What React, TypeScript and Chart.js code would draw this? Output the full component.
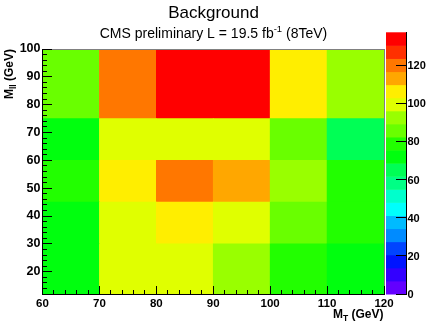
import React, { useEffect, useRef } from "react";
import { Chart, registerables } from "chart.js";

Chart.register(...registerables);

// ---- data ----
const xEdges = [60, 70, 80, 90, 100, 110, 120];
const yEdges = [12, 30, 45, 60, 75, 100];
// cell contents, one array per M_ll row (bottom to top), columns by M_T (left to right)
const row12to30 = [72, 100, 100, 93, 79, 72];
const row30to45 = [72, 100, 107, 100, 86, 79];
const row45to60 = [79, 107, 120, 113, 93, 79];
const row60to75 = [72, 100, 100, 100, 86, 65];
const row75to100 = [86, 120, 134, 137.7, 107, 93];
const rows = [row12to30, row30to45, row45to60, row60to75, row75to100];

const xTickValues = [60, 70, 80, 90, 100, 110, 120];
const yTickValues = [20, 30, 40, 50, 60, 70, 80, 90, 100];
const zTickValues = [0, 20, 40, 60, 80, 100, 120];
const zMin = 0;
const zMax = 137.7;
const nContours = 20;

// ROOT "pretty" palette sampled at 20 contours (bottom to top)
const palette = [
  "rgb(99,0,255)", "rgb(51,0,255)", "rgb(0,20,255)", "rgb(0,68,255)",
  "rgb(0,139,255)", "rgb(0,187,255)", "rgb(0,255,252)", "rgb(0,255,204)",
  "rgb(0,255,133)", "rgb(0,255,85)", "rgb(0,255,14)", "rgb(34,255,0)",
  "rgb(105,255,0)", "rgb(153,255,0)", "rgb(224,255,0)", "rgb(255,238,0)",
  "rgb(255,167,0)", "rgb(255,119,0)", "rgb(255,48,0)", "rgb(255,0,0)",
];

const FONT = '"Liberation Sans", Arial, Helvetica, sans-serif';

function colorFor(v: number): string {
  let k = Math.floor(((v - zMin) / (zMax - zMin)) * nContours);
  if (k < 0) k = 0;
  if (k > nContours - 1) k = nContours - 1;
  return palette[k];
}

function drawSegments(
  ctx: CanvasRenderingContext2D,
  segs: { t: string; font: string; dy: number }[],
  x: number,
  y: number,
  align: "start" | "center" | "end"
) {
  let total = 0;
  for (const s of segs) {
    ctx.font = s.font;
    total += ctx.measureText(s.t).width;
  }
  let cx = align === "start" ? x : align === "center" ? x - total / 2 : x - total;
  ctx.textAlign = "left";
  ctx.textBaseline = "alphabetic";
  for (const s of segs) {
    ctx.font = s.font;
    ctx.fillText(s.t, cx, y + s.dy);
    cx += ctx.measureText(s.t).width;
  }
}

const decorations = {
  id: "rootDecorations",
  afterDraw(chart: any) {
    const ctx: CanvasRenderingContext2D = chart.ctx;
    const xs = chart.scales.x;
    const ys = chart.scales.y;
    const { left, right, top, bottom } = chart.chartArea;
    const L = Math.floor(left);
    const R = Math.floor(right);
    const T = Math.floor(top);
    const B = Math.floor(bottom);
    ctx.save();
    ctx.globalAlpha = 1;
    ctx.globalCompositeOperation = "source-over";

    // frame: top/right (grey), axes (black)
    ctx.fillStyle = "#808080";
    ctx.fillRect(L, T, R - L + 1, 1);
    ctx.fillRect(R, T, 1, B - T + 1);
    ctx.fillStyle = "#000000";
    ctx.fillRect(L, T, 1, B - T + 1);
    ctx.fillRect(L, B, R - L + 1, 1);

    // x ticks (inward)
    for (let v = xEdges[0]; v <= xEdges[xEdges.length - 1] + 1e-9; v += 2) {
      const px = Math.floor(xs.getPixelForValue(v));
      const len = Math.abs(v % 10) < 1e-9 ? 8 : 4;
      ctx.fillRect(px, B - len, 1, len);
    }
    // y ticks (inward)
    for (let v = 14; v <= 100 + 1e-9; v += 2) {
      const py = Math.floor(ys.getPixelForValue(v));
      const len = Math.abs(v % 10) < 1e-9 ? 10 : 5;
      ctx.fillRect(L, py, len, 1);
    }

    // color bar
    const zLeft = 386;
    const zRight = 406;
    const zTop = 32.3;
    const zBottom = bottom;
    const zPix = (v: number) => zBottom - ((v - zMin) / (zMax - zMin)) * (zBottom - zTop);
    for (let k = 0; k < nContours; k++) {
      const v0 = zMin + (k * (zMax - zMin)) / nContours;
      const v1 = zMin + ((k + 1) * (zMax - zMin)) / nContours;
      const y0 = zPix(v0);
      const y1 = zPix(v1);
      ctx.fillStyle = palette[k];
      ctx.fillRect(zLeft, y1, zRight - zLeft, y0 - y1 + 0.5);
    }
    ctx.fillStyle = "#000000";
    ctx.fillRect(zRight, Math.floor(zTop), 1, Math.floor(zBottom) - Math.floor(zTop) + 1);
    for (const v of zTickValues) {
      const py = Math.floor(zPix(v));
      ctx.fillRect(zRight - 10, py, 10, 1);
    }
    ctx.font = "bold 11px " + FONT;
    ctx.textAlign = "left";
    ctx.textBaseline = "middle";
    for (const v of zTickValues) {
      ctx.fillText(String(v), zRight + 1.5, zPix(v) + 0.5);
    }

    // titles
    ctx.textAlign = "center";
    ctx.textBaseline = "alphabetic";
    ctx.font = "17px " + FONT;
    ctx.fillText("Background", 213.5, 17.5);
    const main = "14px " + FONT;
    const sup = "9.5px " + FONT;
    drawSegments(
      ctx,
      [
        { t: "CMS preliminary L = 19.5 fb", font: main, dy: 0 },
        { t: "-1", font: sup, dy: -5.5 },
        { t: " (8TeV)", font: main, dy: 0 },
      ],
      213.5,
      37.7,
      "center"
    );

    // axis titles
    const ab = "bold 12px " + FONT;
    const asub = "bold 8.5px " + FONT;
    drawSegments(
      ctx,
      [
        { t: "M", font: ab, dy: 0 },
        { t: "T", font: asub, dy: 3 },
        { t: " (GeV)", font: ab, dy: 0 },
      ],
      383.5,
      317.5,
      "end"
    );
    ctx.translate(13.3, 49);
    ctx.rotate(-Math.PI / 2);
    drawSegments(
      ctx,
      [
        { t: "M", font: ab, dy: 0 },
        { t: "ll", font: asub, dy: 3 },
        { t: " (GeV)", font: ab, dy: 0 },
      ],
      0,
      0,
      "end"
    );
    ctx.restore();
  },
};

export default function App() {
  const ref = useRef<HTMLCanvasElement | null>(null);

  useEffect(() => {
    if (!ref.current) return;
    const xCenters = xEdges.slice(0, -1).map((e, i) => (e + xEdges[i + 1]) / 2);
    const datasets = rows.map((vals, r) => ({
      label: `M_ll ${yEdges[r]}-${yEdges[r + 1]}`,
      data: xCenters.map((x) => ({ x, y: [yEdges[r], yEdges[r + 1]] })),
      backgroundColor: vals.map(colorFor),
      borderWidth: 0,
      barPercentage: 1,
      categoryPercentage: 1,
      grouped: false,
    }));

    const chart = new Chart(ref.current, {
      type: "bar",
      data: { datasets: datasets as any },
      plugins: [decorations],
      options: {
        responsive: false,
        animation: false,
        devicePixelRatio: 1,
        layout: { padding: { left: 0, top: 49, right: 43, bottom: 0 } },
        plugins: {
          legend: { display: false },
          tooltip: { enabled: false },
          title: { display: false },
        },
        scales: {
          x: {
            type: "linear",
            min: xEdges[0],
            max: xEdges[xEdges.length - 1],
            offset: false,
            stacked: true,
            grid: { display: false, drawTicks: false },
            border: { display: false },
            afterBuildTicks: (s: any) => {
              s.ticks = xTickValues.map((v) => ({ value: v }));
            },
            afterFit: (s: any) => {
              s.height = 33;
            },
            ticks: {
              autoSkip: false,
              maxRotation: 0,
              padding: 3,
              color: "#000",
              font: { family: FONT, size: 11.5, weight: "bold" },
            },
          },
          y: {
            type: "linear",
            min: yEdges[0],
            max: yEdges[yEdges.length - 1],
            stacked: false,
            grid: { display: false, drawTicks: false },
            border: { display: false },
            afterBuildTicks: (s: any) => {
              s.ticks = yTickValues.map((v) => ({ value: v }));
            },
            afterFit: (s: any) => {
              s.width = 42.5;
            },
            ticks: {
              autoSkip: false,
              padding: 2,
              color: "#000",
              font: { family: FONT, size: 12.5, weight: "bold" },
            },
          },
        },
      } as any,
    });
    return () => chart.destroy();
  }, []);

  return (
    <div style={{ position: "absolute", left: 0, top: 0, width: 427, height: 327, background: "#fff" }}>
      <canvas ref={ref} width={427} height={327} style={{ display: "block", width: 427, height: 327 }} />
    </div>
  );
}
